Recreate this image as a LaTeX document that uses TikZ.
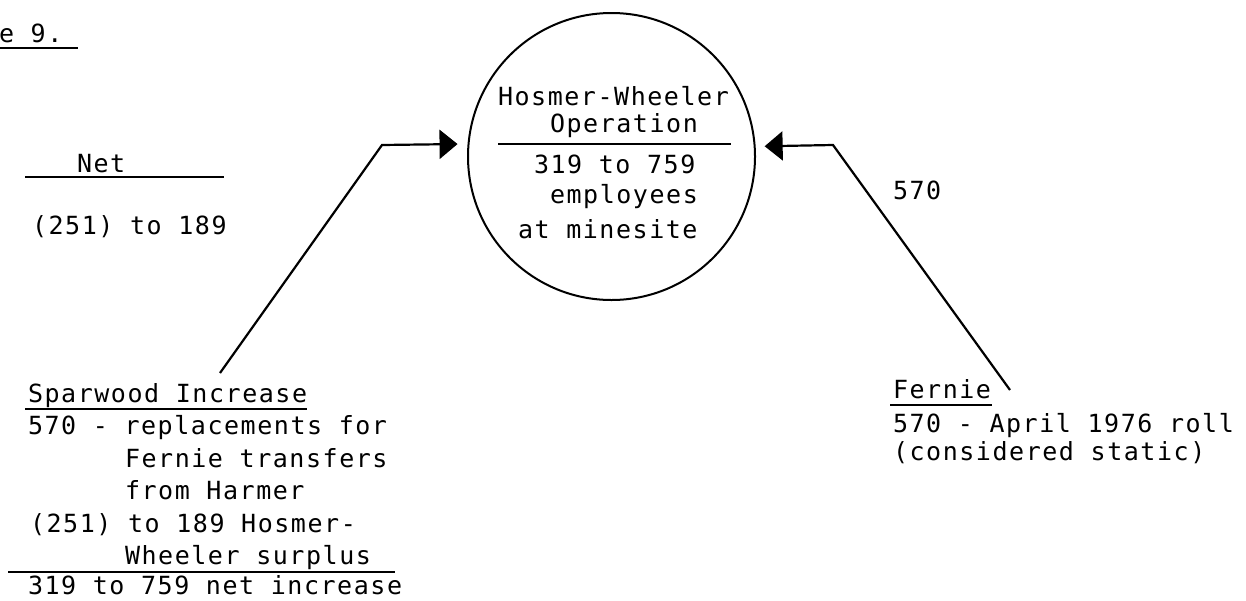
\documentclass[tikz,border=0pt]{standalone}
\usepackage{fontspec}
\usetikzlibrary{arrows.meta}
\newfontfamily\tw[LetterSpace=6.2]{DejaVu Sans Mono}
\begin{document}
\begin{tikzpicture}[x=1pt,y=-1pt,
  txt/.style={anchor=base west, inner sep=0pt, outer sep=0pt, font=\tw\fontsize{25}{30}\selectfont},
  rule/.style={line width=2.2pt},
  flow/.style={line width=2.2pt, -{Triangle[length=18pt,width=29pt]}},
  bubble/.style={circle, draw, line width=2pt, minimum size=287pt, inner sep=0pt}]
\useasboundingbox (0,0) rectangle (1246,600);
% title
\node[txt] (fig) at (-1,42) {e 9.};
\draw[rule] (0,48) -- (78,48);
% Net
\node[txt] (net) at (77,172) {Net};
\draw[rule] (25,177) -- (224,177);
\node[txt] (netv) at (32,234) {(251) to 189};
% circle
\node[bubble] (circ) at (611.5,156.5) {};
\node[txt] (c1) at (498,105) {Hosmer-Wheeler};
\node[txt] (c2) at (550,132) {Operation};
\draw[rule] (498,144) -- (731,144);
\node[txt] (c3) at (534,173) {319 to 759};
\node[txt] (c4) at (550,203) {employees};
\node[txt] (c5) at (518,238) {at minesite};
% Sparwood block
\node[txt] (s1) at (28,402) {Sparwood Increase};
\draw[rule] (25,409) -- (307,409);
\node[txt] (s2) at (28,434.5) {570 - replacements for};
\node[txt] (s3) at (125,467) {Fernie transfers};
\node[txt] (s4) at (125,499.5) {from Harmer};
\node[txt] (s5) at (30,532) {(251) to 189 Hosmer-};
\node[txt] (s6) at (125,564.5) {Wheeler surplus};
\draw[rule] (8,572) -- (395,572);
\node[txt] (s7) at (28,594) {319 to 759 net increase};
% Fernie block
\node[txt] (f1) at (893,398) {Fernie};
\draw[rule] (890,405) -- (992,405);
\node[txt] (f2) at (893,432) {570 - April 1976 roll};
\node[txt] (f3) at (893,460) {(considered static)};
\node[txt] (lab) at (893,199) {570};
% connectors
\coordinate (endL) at (220,373);
\coordinate (bendL) at (382,145);
\coordinate (endR) at (1010,390);
\coordinate (bendR) at (833,145);
\draw[flow, shorten >=10pt] (endL) -- (bendL) -- (circ.175.4);
\draw[flow, shorten >=9pt] (endR) -- (bendR) -- (circ.4.6);
\end{tikzpicture}
\end{document}
